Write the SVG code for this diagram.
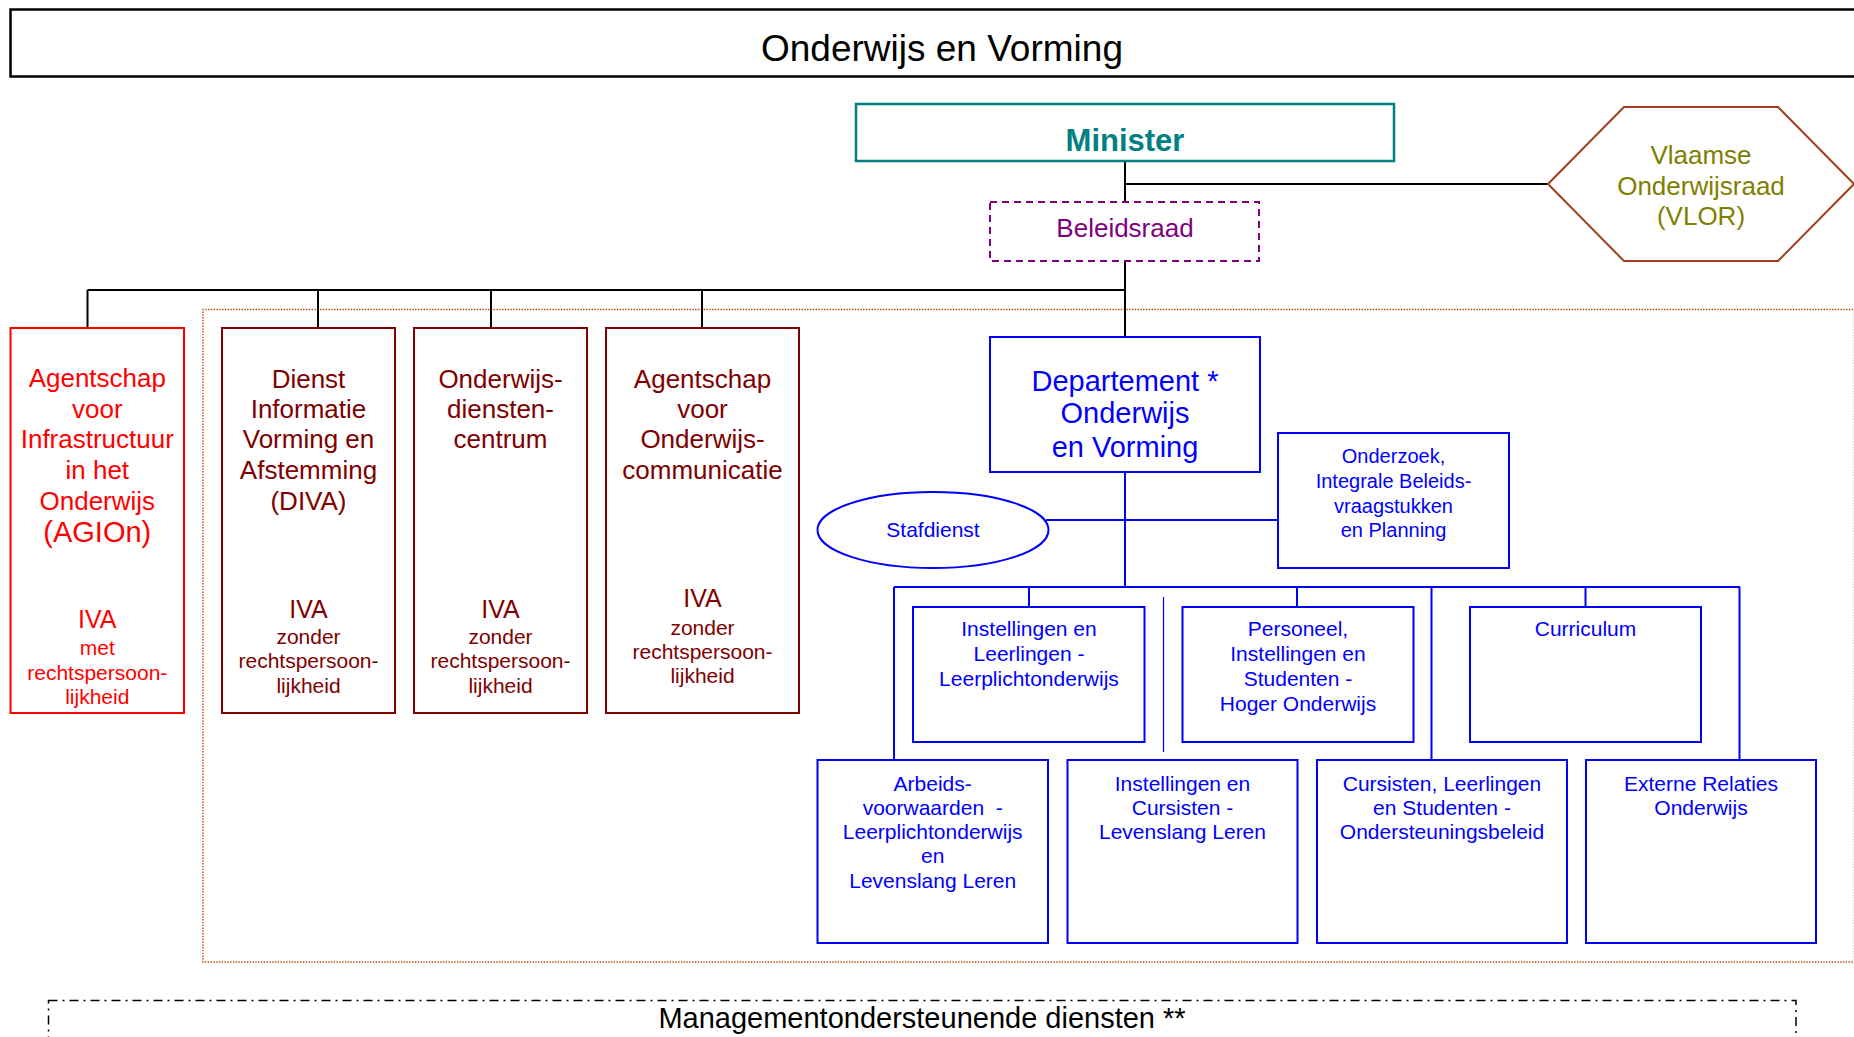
<svg xmlns="http://www.w3.org/2000/svg" width="1854" height="1037" viewBox="0 0 1854 1037">
<style>
text{font-family:"Liberation Sans",Arial,sans-serif;text-anchor:middle}
.bbox{fill:none;stroke:#0000FF;stroke-width:2}
.bt{fill:#0000FF;font-size:21px}
.mbox{fill:none;stroke:#800000;stroke-width:2}
.mt{fill:#800000;font-size:26px}
.ms{fill:#800000;font-size:21px}
.rt{fill:#FF0000;font-size:26px}
.rs{fill:#FF0000;font-size:21px}
.conn{stroke:#000;stroke-width:2;fill:none}
.bconn{stroke:#0000FF;stroke-width:2;fill:none}
.dots{fill:none;stroke:#B8470F;stroke-width:1.4;stroke-dasharray:1.4 1.4}
</style>
<rect x="0" y="0" width="1854" height="1037" fill="#fff"/>

<g id="title">
<rect x="10.5" y="9.5" width="1860" height="67" fill="none" stroke="#000" stroke-width="2.5"/>
<text x="942" y="61" font-size="37" fill="#000">Onderwijs en Vorming</text>
</g>

<g id="container">
<path class="dots" d="M1853 309.5H203V962H1853"/>
<path d="M1853 309.5V962" fill="none" stroke="#D8D8D8" stroke-width="1" stroke-dasharray="1.4 1.4"/>
</g>

<g id="management">
<rect x="48.5" y="1000.5" width="1747.5" height="60" fill="none" stroke="#000" stroke-width="1.5" stroke-dasharray="9 5 2 5"/>
<text x="922" y="1028" font-size="29" fill="#000">Managementondersteunende diensten **</text>
</g>

<g id="connectors">
<path class="conn" d="M1125 161V202M1125 184H1548M1125 261V337M87.5 290H1125M87.5 290V328M318 290V328M491 290V328M702 290V328"/>
<path class="bconn" d="M1125 472V587M1046 520H1278M894 587H1740M894 587V760M1029 587V607M1297 587V607M1431.5 587V760M1585.5 587V607M1739.5 587V760"/>
<path d="M1163.5 597V752" stroke="#0000FF" stroke-width="1.2" fill="none"/>
</g>

<g id="minister">
<rect x="856" y="104" width="538" height="57" fill="none" stroke="#008080" stroke-width="2.5"/>
<text x="1125" y="151" font-size="31" font-weight="bold" fill="#008080">Minister</text>
</g>

<g id="beleidsraad">
<rect x="990" y="202" width="269" height="59" fill="none" stroke="#800080" stroke-width="2" stroke-dasharray="7 5"/>
<text x="1125" y="237" font-size="26" fill="#800080">Beleidsraad</text>
</g>

<g id="vlor">
<polygon points="1548,184 1624,107 1778,107 1854,184 1778,261 1624,261" fill="none" stroke="#A0401A" stroke-width="2"/>
<text font-size="26" fill="#808000"><tspan x="1701" y="164">Vlaamse</tspan><tspan x="1701" y="195">Onderwijsraad</tspan><tspan x="1701" y="225">(VLOR)</tspan></text>
</g>

<g id="agion">
<rect x="10.5" y="328" width="173.5" height="385" fill="none" stroke="#FF0000" stroke-width="2"/>
<text class="rt"><tspan x="97.3" y="387">Agentschap</tspan><tspan x="97.3" y="418">voor</tspan><tspan x="97.3" y="448">Infrastructuur</tspan><tspan x="97.3" y="479">in het</tspan><tspan x="97.3" y="510">Onderwijs</tspan><tspan x="97.3" y="542" font-size="29">(AGIOn)</tspan></text>
<text x="97.3" y="628" fill="#FF0000" font-size="25">IVA</text>
<text class="rs"><tspan x="97.3" y="655">met</tspan><tspan x="97.3" y="680">rechtspersoon-</tspan><tspan x="97.3" y="704">lijkheid</tspan></text>
</g>

<g id="diva">
<rect class="mbox" x="222" y="328" width="173" height="385"/>
<text class="mt"><tspan x="308.5" y="388">Dienst</tspan><tspan x="308.5" y="418">Informatie</tspan><tspan x="308.5" y="448">Vorming en</tspan><tspan x="308.5" y="479">Afstemming</tspan><tspan x="308.5" y="510">(DIVA)</tspan></text>
<text x="308.5" y="618" fill="#800000" font-size="25">IVA</text>
<text class="ms"><tspan x="308.5" y="644">zonder</tspan><tspan x="308.5" y="668">rechtspersoon-</tspan><tspan x="308.5" y="693">lijkheid</tspan></text>
</g>

<g id="odc">
<rect class="mbox" x="414" y="328" width="173" height="385"/>
<text class="mt"><tspan x="500.5" y="388">Onderwijs-</tspan><tspan x="500.5" y="418">diensten-</tspan><tspan x="500.5" y="448">centrum</tspan></text>
<text x="500.5" y="618" fill="#800000" font-size="25">IVA</text>
<text class="ms"><tspan x="500.5" y="644">zonder</tspan><tspan x="500.5" y="668">rechtspersoon-</tspan><tspan x="500.5" y="693">lijkheid</tspan></text>
</g>

<g id="aoc">
<rect class="mbox" x="606" y="328" width="193" height="385"/>
<text class="mt"><tspan x="702.5" y="388">Agentschap</tspan><tspan x="702.5" y="418">voor</tspan><tspan x="702.5" y="448">Onderwijs-</tspan><tspan x="702.5" y="479">communicatie</tspan></text>
<text x="702.5" y="607" fill="#800000" font-size="25">IVA</text>
<text class="ms"><tspan x="702.5" y="635">zonder</tspan><tspan x="702.5" y="659">rechtspersoon-</tspan><tspan x="702.5" y="683">lijkheid</tspan></text>
</g>

<g id="departement">
<rect class="bbox" x="990" y="337" width="270" height="135"/>
<text fill="#0000FF" font-size="29"><tspan x="1125" y="391">Departement *</tspan><tspan x="1125" y="423">Onderwijs</tspan><tspan x="1125" y="457">en Vorming</tspan></text>
</g>

<g id="stafdienst">
<ellipse class="bbox" cx="933" cy="530" rx="115.5" ry="38"/>
<text class="bt" x="933" y="537">Stafdienst</text>
</g>

<g id="onderzoek">
<rect class="bbox" x="1278" y="433" width="231" height="135"/>
<text fill="#0000FF" font-size="20"><tspan x="1393.5" y="463">Onderzoek,</tspan><tspan x="1393.5" y="488">Integrale Beleids-</tspan><tspan x="1393.5" y="513">vraagstukken</tspan><tspan x="1393.5" y="537">en Planning</tspan></text>
</g>

<g id="instellingen-leerlingen">
<rect class="bbox" x="913" y="607" width="231.5" height="135"/>
<text class="bt"><tspan x="1029" y="636">Instellingen en</tspan><tspan x="1029" y="661">Leerlingen -</tspan><tspan x="1029" y="686">Leerplichtonderwijs</tspan></text>
</g>

<g id="personeel">
<rect class="bbox" x="1182.5" y="607" width="231" height="135"/>
<text class="bt"><tspan x="1298" y="636">Personeel,</tspan><tspan x="1298" y="661">Instellingen en</tspan><tspan x="1298" y="686">Studenten -</tspan><tspan x="1298" y="711">Hoger Onderwijs</tspan></text>
</g>

<g id="curriculum">
<rect class="bbox" x="1470" y="607" width="231" height="135"/>
<text class="bt" x="1585.5" y="636">Curriculum</text>
</g>

<g id="arbeidsvoorwaarden">
<rect class="bbox" x="817.5" y="760" width="230.5" height="183"/>
<text class="bt" xml:space="preserve"><tspan x="932.7" y="791">Arbeids-</tspan><tspan x="932.7" y="815">voorwaarden  -</tspan><tspan x="932.7" y="839">Leerplichtonderwijs</tspan><tspan x="932.7" y="863">en</tspan><tspan x="932.7" y="888">Levenslang Leren</tspan></text>
</g>

<g id="instellingen-cursisten">
<rect class="bbox" x="1067.5" y="760" width="230" height="183"/>
<text class="bt"><tspan x="1182.5" y="791">Instellingen en</tspan><tspan x="1182.5" y="815">Cursisten -</tspan><tspan x="1182.5" y="839">Levenslang Leren</tspan></text>
</g>

<g id="cursisten">
<rect class="bbox" x="1317" y="760" width="250" height="183"/>
<text class="bt"><tspan x="1442" y="791">Cursisten, Leerlingen</tspan><tspan x="1442" y="815">en Studenten -</tspan><tspan x="1442" y="839">Ondersteuningsbeleid</tspan></text>
</g>

<g id="externe-relaties">
<rect class="bbox" x="1586" y="760" width="230" height="183"/>
<text class="bt"><tspan x="1701" y="791">Externe Relaties</tspan><tspan x="1701" y="815">Onderwijs</tspan></text>
</g>
</svg>
